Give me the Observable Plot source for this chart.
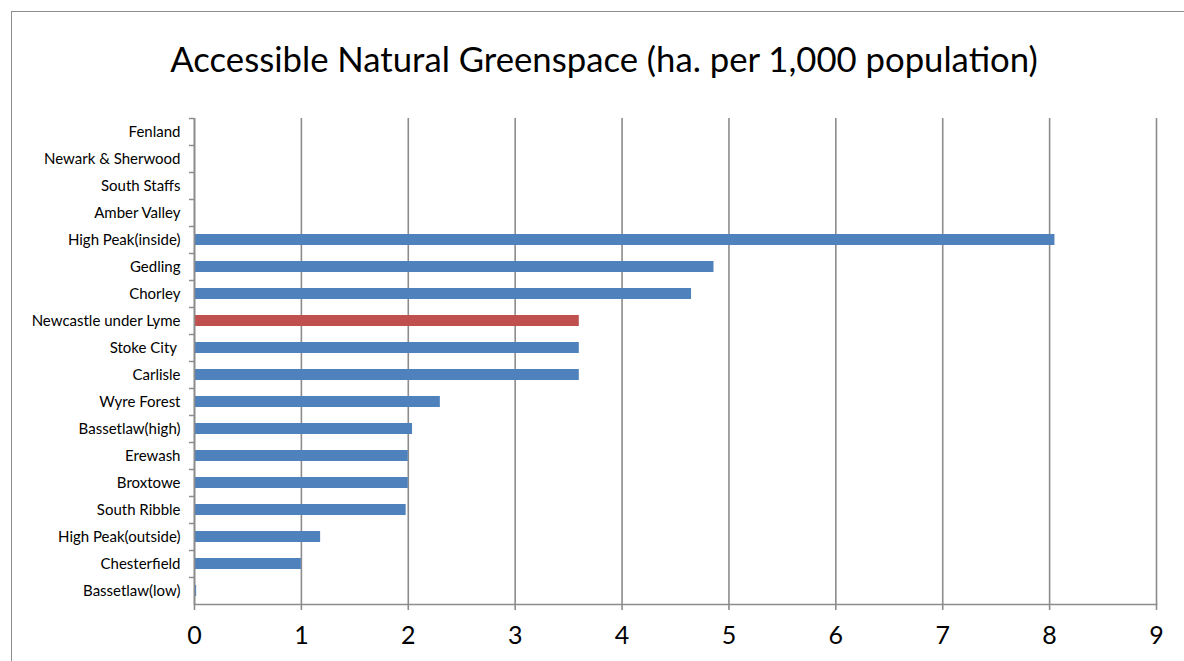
<!DOCTYPE html>
<html>
<head>
<meta charset="utf-8">
<script src="https://cdn.jsdelivr.net/npm/d3@7"></script>
<script src="https://cdn.jsdelivr.net/npm/@observablehq/plot@0.6"></script>
<style>
  html, body { margin: 0; padding: 0; background: #fff; }
  body { width: 1184px; height: 661px; position: relative; overflow: hidden; font-family: Lato, "Open Sans", sans-serif; }
  #frame { position: absolute; left: 11px; top: 11px; width: 1200px; height: 700px; border-top: 1.5px solid #8c8c8c; border-left: 1.5px solid #8c8c8c; box-sizing: border-box; }
  #title { position: absolute; left: 0; top: 38px; width: 1208px; text-align: center; font-size: 34.7px; color: #000; white-space: nowrap; }
  #chart { position: absolute; left: 0; top: 100px; width: 1184px; }
  #chart svg { display: block; }
</style>
</head>
<body>
<div id="frame"></div>
<div id="title">Accessible Natural Greenspace (ha. per 1,000 population)</div>
<div id="chart"></div>
<script>
const categories = [
  "Fenland", "Newark & Sherwood", "South Staffs", "Amber Valley", "High Peak(inside)",
  "Gedling", "Chorley", "Newcastle under Lyme", "Stoke City ", "Carlisle",
  "Wyre Forest", "Bassetlaw(high)", "Erewash", "Broxtowe", "South Ribble",
  "High Peak(outside)", "Chesterfield", "Bassetlaw(low)"
];
const values = [0, 0, 0, 0, 8.05, 4.86, 4.65, 3.6, 3.6, 3.6, 2.3, 2.04, 2.0, 2.0, 1.98, 1.18, 1.0, 0.02];
const highlight = "Newcastle under Lyme";
const xTicks = [0, 1, 2, 3, 4, 5, 6, 7, 8, 9];

const data = categories.map((c, i) => ({name: c, value: values[i]}));

const chart = Plot.plot({
  width: 1184,
  height: 561,
  marginLeft: 194,
  marginRight: 28,
  marginTop: 18,
  marginBottom: 57,
  style: {fontFamily: "Lato, 'Open Sans', sans-serif", background: "transparent"},
  x: {domain: [0, 9], ticks: xTicks},
  y: {domain: categories, paddingInner: 0.58, paddingOuter: 0.29, align: 0.5},
  marks: [
    Plot.gridX(xTicks, {stroke: "#8c8c8c", strokeOpacity: 1, strokeWidth: 1.6}),
    Plot.barX(data, {
      x: "value", y: "name",
      fill: d => d.name === highlight ? "#C0504D" : "#4F81BD"
    }),
    Plot.ruleX([0], {stroke: "#8c8c8c", strokeWidth: 1.6}),
    Plot.frame({anchor: "bottom", stroke: "#8c8c8c", strokeWidth: 1.6}),
    Plot.axisY({tickSize: 0, tickPadding: 14, fontSize: 15, fill: "#000", label: null}),
    Plot.axisY({text: null, tickSize: 5, dy: -13.5, stroke: "#8c8c8c", strokeWidth: 1.5, label: null}),
    Plot.axisX(xTicks, {tickSize: 6, tickPadding: 16, fontSize: 25, fill: "#000", stroke: "#8c8c8c", strokeWidth: 1.6, label: null})
  ]
});
document.getElementById("chart").appendChild(chart);
</script>
</body>
</html>
